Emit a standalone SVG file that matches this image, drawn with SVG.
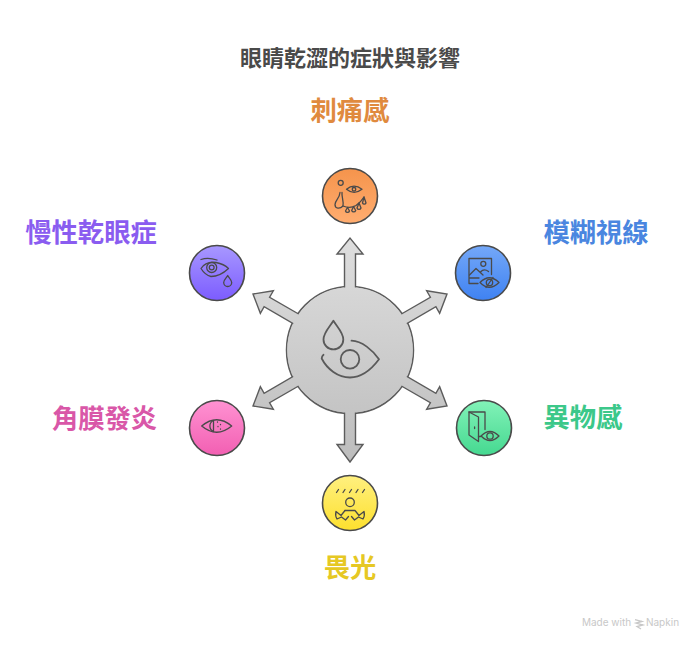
<svg xmlns="http://www.w3.org/2000/svg" width="700" height="647" viewBox="0 0 700 647">
<style>
text{font-family:"Noto Sans CJK TC","Noto Sans CJK SC","Liberation Sans",sans-serif;font-weight:700;text-anchor:middle}
.lb{font-size:26.3px}
.dot{stroke:#4a4a4a;stroke-width:1.6}
.ic{fill:none;stroke:#4a4a4a;stroke-width:1.3;stroke-linecap:round;stroke-linejoin:round}
.arrow{fill:url(#gGrey);stroke:#5c5c5c;stroke-width:1.4;stroke-linejoin:miter}
.main{fill:none;stroke:#5a5a5a;stroke-width:1.8;stroke-linecap:round;stroke-linejoin:round}
</style>
<defs>
<linearGradient id="gGrey" gradientUnits="userSpaceOnUse" x1="0" y1="238" x2="0" y2="462"><stop offset="0" stop-color="#dedede"/><stop offset="1" stop-color="#bdbdbd"/></linearGradient>
<linearGradient id="gO" x1="0" y1="0" x2="0" y2="1"><stop offset="0" stop-color="#f5944c"/><stop offset="1" stop-color="#ffad70"/></linearGradient>
<linearGradient id="gB" x1="0" y1="0" x2="0" y2="1"><stop offset="0" stop-color="#74a8f8"/><stop offset="1" stop-color="#3f82f2"/></linearGradient>
<linearGradient id="gG" x1="0" y1="0" x2="0" y2="1"><stop offset="0" stop-color="#82f2b8"/><stop offset="1" stop-color="#45d890"/></linearGradient>
<linearGradient id="gY" x1="0" y1="0" x2="0" y2="1"><stop offset="0" stop-color="#fff080"/><stop offset="1" stop-color="#fde02e"/></linearGradient>
<linearGradient id="gP" x1="0" y1="0" x2="0" y2="1"><stop offset="0" stop-color="#ff92d2"/><stop offset="1" stop-color="#f25fb2"/></linearGradient>
<linearGradient id="gV" x1="0" y1="0" x2="0" y2="1"><stop offset="0" stop-color="#a898ff"/><stop offset="1" stop-color="#7c5cff"/></linearGradient>
</defs>
<rect width="700" height="647" fill="#fff"/>
<text x="350" y="65.500" font-size="22" fill="#4a4a4a">眼睛乾澀的症狀與影響</text>

<g id="hub-disc"><circle cx="350" cy="350" r="63.5" fill="url(#gGrey)" stroke="#5c5c5c" stroke-width="1.5"/></g>
<g id="connectors">
<path class="arrow" d="M344.5 290V254H337L350 238L363 254H355.5V290Z"/>
<path class="arrow" d="M344.5 410V444.500H337L350 462L363 444.500H355.5V410Z"/>
<path class="arrow" d="M397.48 316.24L430.39 297.24L426.64 290.74L447 294L439.64 313.26L435.89 306.76L403 325.76Z"/>
<path class="arrow" d="M397.48 383.76L430.39 402.76L426.64 409.26L447 406L439.64 386.74L435.89 393.24L403 374.24Z"/>
<path class="arrow" d="M302.52 383.76L269.61 402.76L273.36 409.26L253 406L260.36 386.74L264.11 393.24L297 374.24Z"/>
<path class="arrow" d="M302.52 316.24L269.61 297.24L273.36 290.74L253 294L260.36 313.26L264.11 306.76L297 325.76Z"/>
</g>
<g id="hub">
<circle cx="350" cy="350" r="62.7" fill="url(#gGrey)"/>
<path class="main" d="M333.4 320.8C330 326.5 323.5 332.5 323.5 339.5A9.9 9.9 0 0 0 343.3 339.5C343.3 332.5 336.8 326.5 333.4 320.8Z"/>
<circle class="main" cx="350" cy="359.3" r="9.3"/>
<path class="main" d="M351.5 340.7C362 341 372.5 350 379 359.3C371 370 361 377.5 350 377.5C338 377.5 327 369 321.7 358.5Q321.8 356 323.5 354.7"/>
</g>

<g id="node-orange">
<circle class="dot" cx="350" cy="196" r="27.5" fill="url(#gO)"/>
<circle class="ic" cx="340.7" cy="182.8" r="2.5"/>
<path class="ic" d="M346.5 189.3Q354 183 362 189.3Q354 195.500 346.500 189.3Z"/><circle class="ic" cx="354" cy="189.3" r="1.8"/>
<path class="ic" d="M340 192.500C339.500 199 335 200 335 204.500C335 209 340 209 343 206C344 202 341.500 197 342 192.500"/>
<path class="ic" d="M343 206Q350 209 356 205.500Q361 202 364 197"/>
<path class="ic" d="M347.500 207.500L345.500 211A2.100 2.100 0 0 0 349.500 211ZM353.500 206.500L351.700 210.500A2.100 2.100 0 0 0 355.700 210.500ZM359 203L357 208A2.100 2.100 0 0 0 361 208ZM364 197L362.500 203A1.900 1.900 0 0 0 366 203Z"/>
</g>
<g id="node-blue">
<circle class="dot" cx="483" cy="273" r="27.5" fill="url(#gB)"/>
<path class="ic" d="M478 283.500H469V258.500H491.500V274.500M469 278H479"/>
<circle class="ic" cx="483.300" cy="263.800" r="2.500"/>
<path class="ic" d="M469.500 275L476 268.500L483 275M480.500 272Q484 268 488.500 271.500"/>
<path class="ic" d="M480 282.500Q489.300 273 499 282.500Q489.300 292 480 282.500Z"/><circle class="ic" cx="489.500" cy="282.500" r="3.200"/><path class="ic" d="M486 287.500L493 277.500"/>
</g>
<g id="node-green">
<circle class="dot" cx="484" cy="428" r="27.5" fill="url(#gG)"/>
<path class="ic" d="M469 412H485V429.500M478.500 436.500H480.500"/>
<path class="ic" d="M469 412L478.500 417V441.500L469 435Z"/>
<path class="ic" d="M474.600 427V428.500"/>
<path class="ic" d="M481 436Q490 427 499 436Q490 445 481 436Z"/><circle class="ic" cx="490" cy="436" r="3.200"/>
</g>
<g id="node-yellow">
<circle class="dot" cx="350" cy="503" r="27.5" fill="url(#gY)"/>
<path class="ic" d="M336.500 492.500L338.500 489.500M343 492.500L345 489.500M349.500 492.500L351.500 489.500M356 492.500L358 489.500M362.500 492.500L364.500 489.500"/>
<circle class="ic" cx="350" cy="502.300" r="4.300"/>
<path class="ic" d="M345 510.500H355L359 515.500L364 511.500Q365 516 363 519L358.500 517L354.500 520L351.500 516.500"/>
<path class="ic" d="M345 510.500L341 515.500L336 511.500Q335 516 337 519L341.500 517L345.500 520L348.500 516.500"/>
</g>
<g id="node-pink">
<circle class="dot" cx="217" cy="428" r="27.5" fill="url(#gP)"/>
<path class="ic" d="M201.700 426Q216.700 413.500 231.700 426Q216.700 438.500 201.700 426Z"/>
<path class="ic" d="M213.500 420.500A6 6 0 0 0 213.500 431.500Z"/>
<path class="ic" d="M217.500 422V422.200M220.500 424.500V424.700M218 426.500V426.700M220.500 429V429.200"/>
</g>
<g id="node-purple">
<circle class="dot" cx="217" cy="273" r="27.5" fill="url(#gV)"/>
<path class="ic" d="M201 268.500Q206 261 216 262.500Q224 264 228.500 268.500Q220 276.500 211 276.500Q205 275 201 268.500Z"/>
<path class="ic" d="M201 259.500Q208 257 217 260"/>
<circle class="ic" cx="211.700" cy="267.500" r="5"/><circle class="ic" cx="211.700" cy="267.500" r="2.400"/>
<path class="ic" d="M227.700 275.500C226.500 278 223.700 280 223.700 282.500A4 4 0 0 0 231.700 282.500C231.700 280 229 278 227.700 275.500Z"/>
</g>

<g id="labels">
<text class="lb" x="350" y="120" fill="#e08a3e">刺痛感</text>
<text class="lb" x="596" y="242" fill="#4a86e0">模糊視線</text>
<text class="lb" x="583" y="427" fill="#3cc88a">異物感</text>
<text class="lb" x="350" y="576.500" fill="#e6c823">畏光</text>
<text class="lb" x="104.500" y="428" fill="#d957a8">角膜發炎</text>
<text class="lb" x="91" y="242" fill="#8a5cf0">慢性乾眼症</text>
</g>
<g id="footer" fill="#c8c8c8">
<text x="606.500" y="626" font-size="10" style="font-family:'Inter','Liberation Sans',sans-serif;font-weight:400">Made with</text>
<path d="M635 619.500L642 621.500L636 623L643 625L637 626.500L641 629" fill="none" stroke="#c8c8c8" stroke-width="1.300"/>
<text x="662.500" y="626" font-size="10" style="font-family:'Inter','Liberation Sans',sans-serif;font-weight:400">Napkin</text>
</g>
</svg>
